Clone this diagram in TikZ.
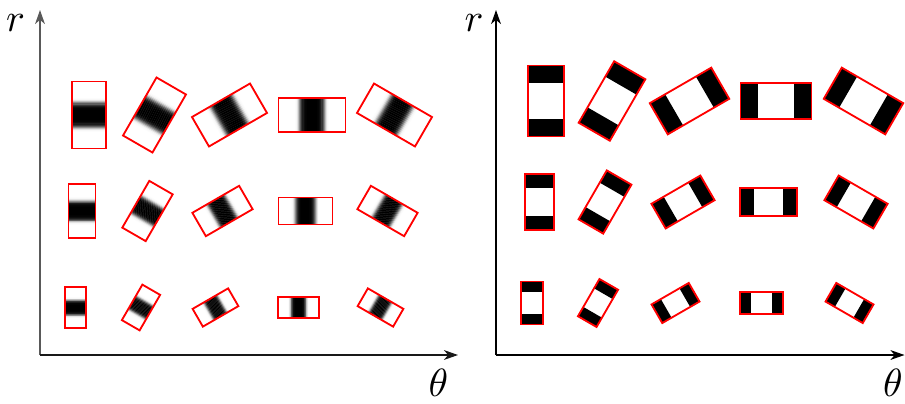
\documentclass[tikz,border=0pt]{standalone}
\usetikzlibrary{arrows.meta}

\begin{document}
\begin{tikzpicture}[
    x=0.025cm, y=0.025cm,
    >={Stealth[length=10pt,width=7pt,inset=3pt]},
    axislabel/.style={
        scale=2.8,
        transform shape,
        inner sep=0pt
    },
    edgebox/.style={
        draw=red,
        line width=1.3pt
    },
    axisline/.style={
        ->,
        line width=1pt
    }
]

\useasboundingbox (0,0) rectangle (905,403);

% ---------------------------------
% Left: smooth profiles
% ---------------------------------
\coordinate (lo) at (40,48);
\coordinate (ltop) at (40,393);
\coordinate (lend) at (458,48);

\draw[axisline, black!65] (lo) -- (ltop);
\draw[axisline, black!90] (lo) -- (lend);

\node[axislabel] (lr) at (15.5,380) {$r$};
\node[axislabel] (lth) at (438.5,20.5) {$\theta$};

\foreach \cy/\w/\h/\xs in {288/34/67/{89,154.5,229.5,312,394.5},
                           192/27/54/{82,147.5,222.5,305.5,387.5},
                           95.5/20.5/41/{75.5,141,215.5,298.5,380.5}}{
    \foreach \cx [count=\i] in \xs {
        \begin{scope}[shift={(\cx,\cy)}, rotate=-30*(\i-1)]
            % band of thin strips, dark in the middle
            \foreach \k in {-16,...,16}{
                \pgfmathsetmacro\gq{(\k/11.4)*(\k/11.4)}
                \pgfmathtruncatemacro\gv{max(0,min(100,100*exp(-\gq*\gq*\gq)+0.5))}
                \fill[black!\gv] (-\w/2,{(\k-0.6)*\h/60}) rectangle (\w/2,{(\k+0.6)*\h/60});
            }
            \draw[edgebox] (-\w/2,-\h/2) rectangle (\w/2,\h/2);
        \end{scope}
    }
}

% ---------------------------------
% Right: hard edges
% ---------------------------------
\coordinate (ro) at (496,48);
\coordinate (rtop) at (496,393);
\coordinate (rend) at (904.5,48);

\draw[axisline] (ro) -- (rtop);
\draw[axisline] (ro) -- (rend);

\node[axislabel] (rr) at (474,380) {$r$};
\node[axislabel] (rth) at (893,20.5) {$\theta$};

\foreach \cy/\w/\h/\xs in {302/36/71/{546,612,689.5,776,863.5},
                           201/28.5/56.5/{539.5,605,683,768.5,856},
                           100/21.5/43/{532,598,675.5,761.5,849.5}}{
    \foreach \cx [count=\i] in \xs {
        \begin{scope}[shift={(\cx,\cy)}, rotate=-30*(\i-1)]
            \fill (-\w/2,\h/4) rectangle (\w/2,\h/2);
            \fill (-\w/2,-\h/2) rectangle (\w/2,-\h/4);
            \draw[edgebox] (-\w/2,-\h/2) rectangle (\w/2,\h/2);
        \end{scope}
    }
}

\end{tikzpicture}
\end{document}
